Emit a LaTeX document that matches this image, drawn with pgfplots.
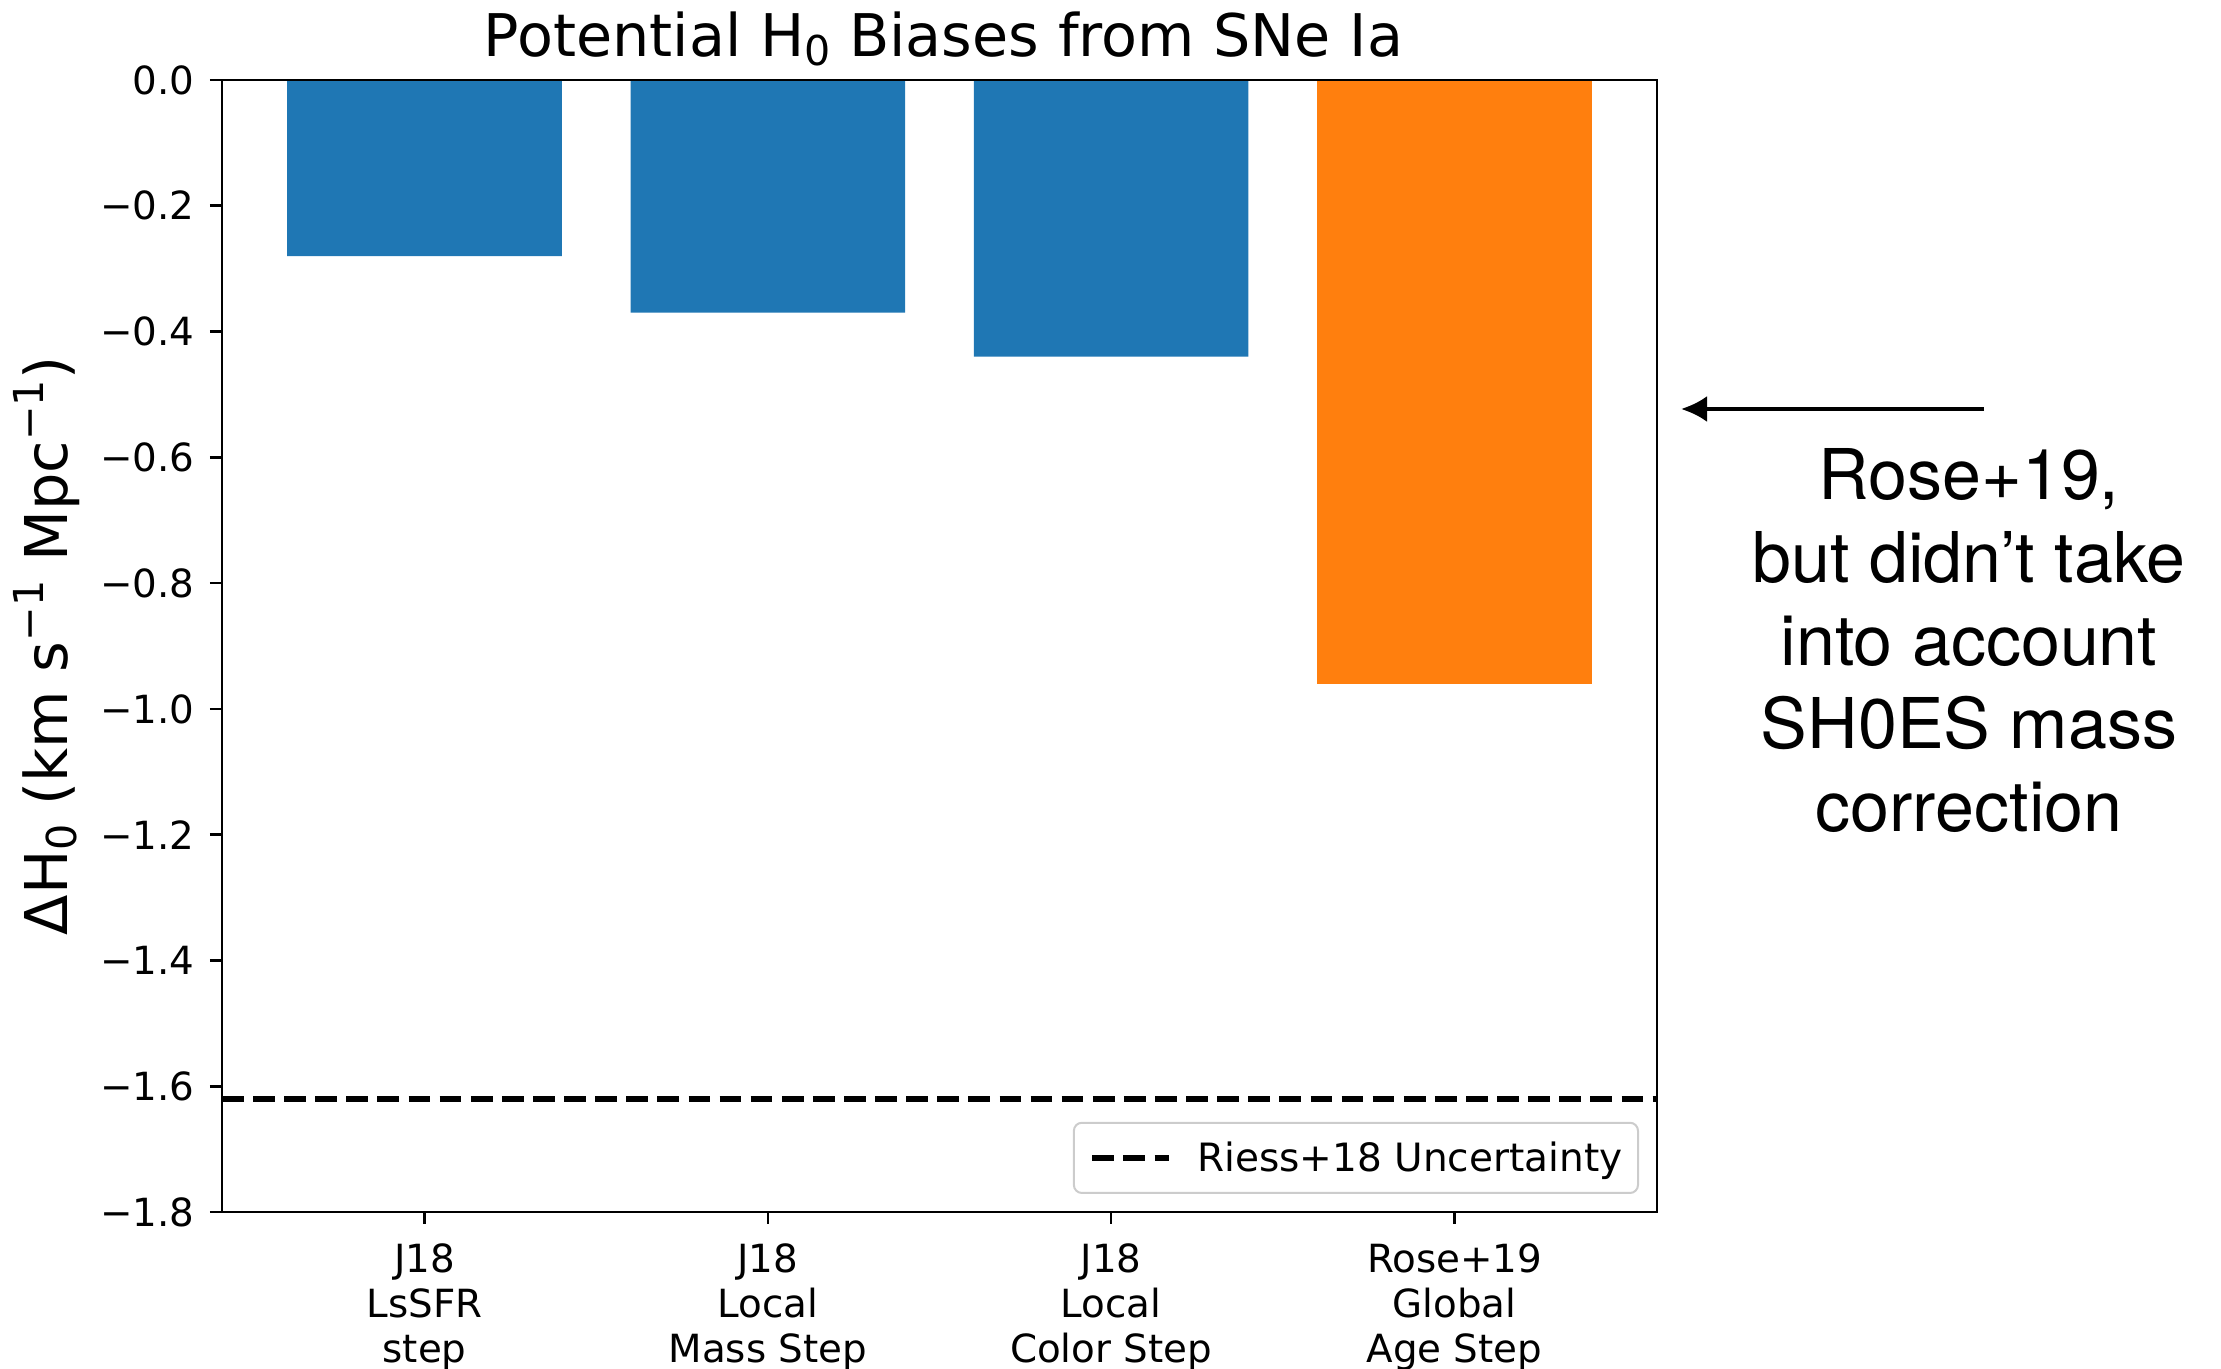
\documentclass[border=0pt]{standalone}
\usepackage{pgfplots}
\pgfplotsset{compat=1.18}
\usepackage{fontspec}
\usepackage{graphicx}
\setmainfont{DejaVu Sans}
\newfontfamily\helv{TeX Gyre Heros}
\usetikzlibrary{arrows.meta}
\definecolor{tabblue}{HTML}{1F77B4}
\definecolor{taborange}{HTML}{FF7F0E}
% sub- and superscripts set in the text font
\newcommand\lo[1]{\raisebox{-0.14em}{\scalebox{0.7}{#1}}}
\newcommand\hi[1]{\raisebox{0.42em}{\scalebox{0.7}{#1}}}

\begin{document}
\begin{tikzpicture}
\begin{axis}[
  name=ax,
  at={(0,0)}, anchor=south west,
  scale only axis, width=717.5pt, height=566pt,
  xmin=-0.59, xmax=3.59, ymin=-1.8, ymax=0,
  axis on top,
  clip=false,
  axis line style={line width=1.3pt},
  tick style={line width=1.3pt, black},
  major tick length=6pt,
  tick align=outside, tick pos=left,
  xtick={0,1,2,3},
  xticklabels={{J18\\LsSFR\\step},{J18\\Local\\Mass Step},{J18\\Local\\Color Step},{Rose+19\\Global\\Age Step}},
  xticklabel style={align=center, font=\fontsize{19.4}{22.5}\selectfont, inner sep=0pt, anchor=north, yshift=-9.75pt},
  ytick={0,-0.2,-0.4,-0.6,-0.8,-1.0,-1.2,-1.4,-1.6,-1.8},
  yticklabels={0.0,−0.2,−0.4,−0.6,−0.8,−1.0,−1.2,−1.4,−1.6,−1.8},
  yticklabel style={font=\fontsize{19.4}{23}\selectfont, inner sep=0pt, anchor=east, xshift=-7.5pt},
  legend style={at={(rel axis cs:1,0)}, xshift=-9pt, yshift=9pt, anchor=south east,
    draw=black!20, line width=1pt, rounded corners=4pt, fill=white,
    inner xsep=7.8pt, inner ysep=9.4pt, font=\fontsize{19.5}{23}\selectfont,
    nodes={inner sep=0pt}, column sep=12.5pt},
  legend image code/.code={\draw[line width=2.9pt, dash pattern=on 10.85pt off 4.7pt] (0pt,0pt) -- (38.5pt,0pt);},
]
% measured steps (blue) and the global age step (orange)
\addplot[ybar, bar width=0.8, bar shift=0pt, fill=tabblue, draw=none, forget plot]
  coordinates {(0,-0.28) (1,-0.37) (2,-0.44)};
\addplot[ybar, bar width=0.8, bar shift=0pt, fill=taborange, draw=none, forget plot]
  coordinates {(3,-0.96)};
% uncertainty level
\addplot[black, line width=2.9pt, dash pattern=on 10.85pt off 4.7pt]
  coordinates {(-0.59,-1.62) (3.59,-1.62)};
\addlegendentry{Riess+18 Uncertainty}
\end{axis}

\node[anchor=base, font=\fontsize{29.4}{35}\selectfont]
  at ([xshift=2pt,yshift=11.5pt]ax.north) {Potential H\lo{0} Biases from SNe Ia};
\node[rotate=90, anchor=base, font=\fontsize{29.5}{35}\selectfont]
  at ([xshift=-77pt]ax.west) {ΔH\lo{0} (km s\hi{−1} Mpc\hi{−1})};

\draw[line width=2pt, -{Latex[length=13pt,width=13pt]}]
  ([shift={(881pt,401.5pt)}]ax.south west) -- ([shift={(729.5pt,401.5pt)}]ax.south west);
% anchored at the baseline of the last line
\node[font=\helv\fontsize{35}{41.5}\selectfont, align=center, anchor=base]
  at ([shift={(873.5pt,190pt)}]ax.south west)
  {Rose+19,\\but didn’t take\\into account\\SH0ES mass\\correction};

\pgfresetboundingbox
\path[use as bounding box] ([shift={(-111pt,-78.5pt)}]ax.south west) rectangle ([shift={(999.5pt,606pt)}]ax.south west);
\end{tikzpicture}
\end{document}
